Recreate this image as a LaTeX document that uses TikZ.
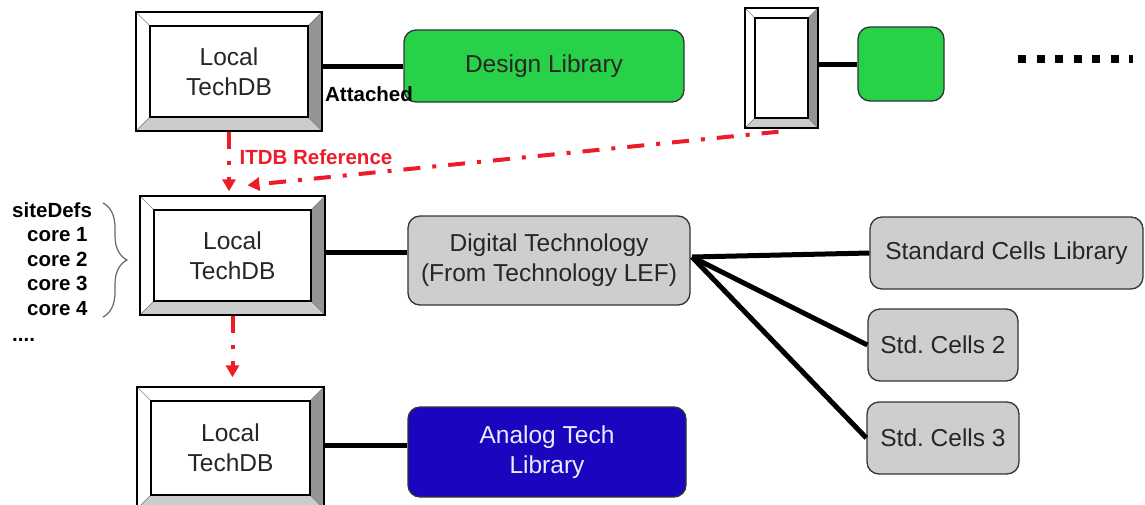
\documentclass[tikz,border=0pt]{standalone}
\usepackage{fontspec}
\setmainfont{Liberation Sans}
\usepackage{tikz}
\usetikzlibrary{arrows.meta}
\usetikzlibrary{decorations.pathreplacing}
\tikzset{>=latex}
\usepackage{xcolor}
\definecolor{libgreen}{RGB}{40,210,72}
\definecolor{libblue}{RGB}{26,6,190}
\definecolor{libgray}{RGB}{206,206,206}
\definecolor{refred}{RGB}{236,28,40}
\definecolor{analogtext}{RGB}{235,235,255}
\colorlet{bevellight}{white}
\colorlet{beveldark}{black!42}
\colorlet{bevelbottom}{black!20}
\colorlet{boxtext}{black!85}
\frenchspacing
\tikzstyle{lib box}=[draw=black!80,line width=1.3pt,rounded corners=12pt,fill=libgray,
                     text=boxtext,align=center,inner sep=0pt,font=\fontsize{24.5}{30}\selectfont]
\tikzstyle{link}=[line width=5pt,black]
\tikzstyle{itdb ref}=[refred,line width=4pt,dash pattern=on 17pt off 12pt on 4pt off 12pt,
                      -{Triangle[width=13pt,length=12pt]}]
\tikzstyle{side text}=[inner sep=0pt,anchor=base west,font=\fontsize{20.5}{24}\selectfont\bfseries]
\tikzset{
  bevel width/.store in=\bevelw, bevel width=14pt,
  techdb/.style={draw=black,line width=1.4pt,fill=white,inner sep=0pt,
    text=boxtext,align=center,font=\fontsize{24.5}{30}\selectfont,
    path picture={
      \def\pb{path picture bounding box}
      \coordinate (nw) at ([shift={(\bevelw,-\bevelw)}]\pb.north west);
      \coordinate (ne) at ([shift={(-\bevelw,-\bevelw)}]\pb.north east);
      \coordinate (se) at ([shift={(-\bevelw,\bevelw)}]\pb.south east);
      \coordinate (sw) at ([shift={(\bevelw,\bevelw)}]\pb.south west);
      \filldraw[bevellight,draw=black!50,line width=0.6pt]
        (\pb.north west) -- (\pb.north east) -- (ne) -- (nw) -- cycle
        (\pb.north west) -- (nw) -- (sw) -- (\pb.south west) -- cycle;
      \filldraw[beveldark,draw=black!50,line width=0.6pt]
        (\pb.north east) -- (\pb.south east) -- (se) -- (ne) -- cycle;
      \filldraw[bevelbottom,draw=black!50,line width=0.6pt]
        (\pb.south west) -- (\pb.south east) -- (se) -- (sw) -- cycle;
      \draw[black,line width=1.2pt] (nw) rectangle (se);
    }}}

\begin{document}
\begin{tikzpicture}[x=1pt,y=-1pt]
  \useasboundingbox (0,0) rectangle (1145,504);
  \clip (0,0) rectangle (1145,504);

  % TECHDB BOXES
  \node[techdb,minimum width=186pt,minimum height=119pt] (box1) at (229,71.5) {Local\\TechDB};
  \node[techdb,minimum width=185pt,minimum height=119pt] (box2) at (232.5,255.5) {Local\\TechDB};
  \node[techdb,minimum width=187pt,minimum height=122pt] (box3) at (230.5,448) {Local\\TechDB};
  \node[techdb,bevel width=10pt,minimum width=73pt,minimum height=120pt] (box4) at (781.5,68) {};

  % LIBRARIES
  \node[lib box,fill=libgreen,minimum width=280pt,minimum height=72pt] (design) at (544,66) {Design Library};
  \node[lib box,fill=libgreen,minimum width=86pt,minimum height=74pt] (design2) at (901,64) {};
  \node[lib box,minimum width=282pt,minimum height=89pt] (digital) at (549,260.5)
    {Digital Technology\\(From Technology LEF)};
  \node[lib box,fill=libblue,text=analogtext,
        minimum width=278pt,minimum height=90pt] (analog) at (547,452) {Analog Tech\\Library};
  \node[lib box,minimum width=273pt,minimum height=72pt] (stdlib) at (1006.5,253) {Standard Cells Library};
  \node[lib box,minimum width=150pt,minimum height=72pt] (std2) at (943,345) {Std. Cells 2};
  \node[lib box,minimum width=152pt,minimum height=72pt] (std3) at (943,438) {Std. Cells 3};

  % ATTACHMENTS
  \draw[link] (design.west -| box1.east) -- (design.west);
  \draw[link] (design2.west -| box4.east) -- (design2.west);
  \draw[link] (box2.east |- 0,252) -- (digital.west |- 0,252);
  \draw[link] (box3.east |- 0,445) -- (analog.west |- 0,445);
  \node[inner sep=0pt,font=\fontsize{20.5}{24}\selectfont\bfseries] (attached) at (369,94) {Attached};

  % FAN OUT TO CELL LIBRARIES
  \coordinate (fan) at (692,257);
  \foreach \lib in {stdlib,std2,std3}
    \draw[link,line join=round] (fan) -- (\lib.west);

  % ITDB REFERENCES
  \coordinate (itdb) at ([shift={(15pt,10pt)}]box2.north);
  \draw[itdb ref,shorten >=4pt] (box1.south) -- (box1.south |- box2.north);
  \draw[itdb ref] ([shift={(-3pt,-3pt)}]box4.south) -- (itdb);
  \draw[itdb ref,shorten >=9pt] (box2.south) -- (box2.south |- box3.north);
  \node[inner sep=0pt,text=refred,font=\fontsize{20.5}{24}\selectfont\bfseries] (reflabel) at (316,157) {ITDB Reference};

  % SITE DEFINITIONS
  \node[side text] (sitedefs) at (12,217) {siteDefs};
  \foreach \i in {1,...,4}
    \node[side text] (core\i) at (27,217+24.5*\i) {core \i};
  \node[side text] (more) at (12,341) {....};
  \draw[black!60,line width=1.2pt,decorate,decoration={brace,amplitude=24pt}]
    (103,203) -- (103,317);

  % MORE LIBRARIES
  \draw[line width=8pt,dash pattern=on 8pt off 10.5pt] (1018,59) -- (1133,59);
\end{tikzpicture}
\end{document}
